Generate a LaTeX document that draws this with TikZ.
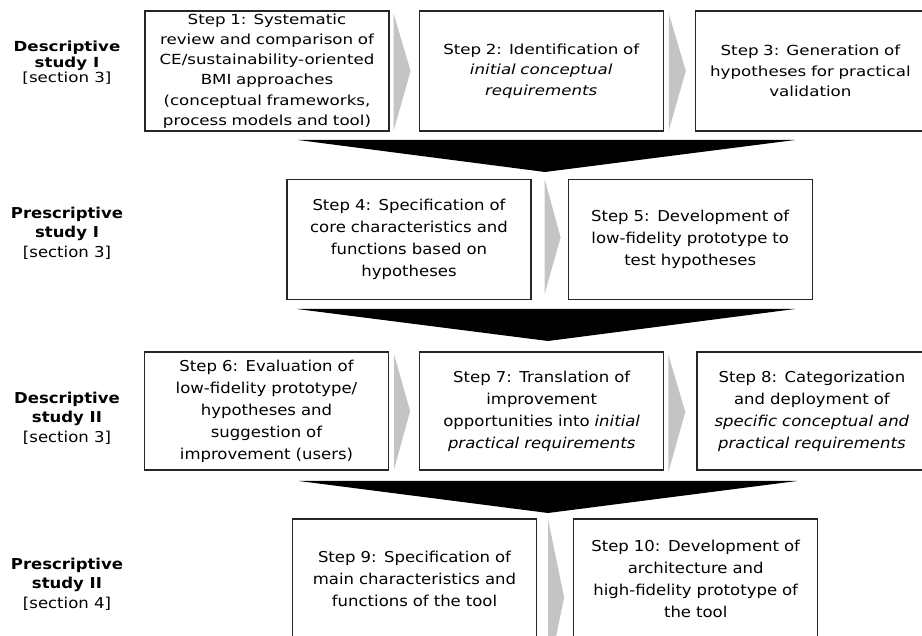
\documentclass[tikz,border=0pt]{standalone}
\usepackage{fontspec}
\setmainfont{DejaVu Sans}
\newfontfamily\topfont[FakeStretch=1.2]{DejaVu Sans}
\newfontfamily\lowfont[FakeStretch=1.1]{DejaVu Sans}
\usetikzlibrary{positioning,calc}
\definecolor{chevronGray}{HTML}{C4C4C4}
\begin{document}
\begin{tikzpicture}[x=1pt, y=-1pt, node distance=30pt]
        % Estilos
        \tikzstyle{stepBox} = [draw=black!85, line width=1.2pt, rectangle, minimum width=244pt, minimum height=120pt, inner sep=2pt, align=center, text width=238pt]
        \tikzstyle{topText} = [font=\topfont\fontsize{13.9}{20.2}\selectfont]
        \tikzstyle{lowText} = [font=\lowfont\fontsize{15}{22}\selectfont]
        \tikzstyle{studyLabel} = [align=center, inner sep=0pt]
        \tikzstyle{bigArrow} = [fill=black]
        \tikzstyle{chevron} = [fill=chevronGray]

        \clip (0,0) rectangle (922,636);

        % Etiquetas de fase
        \node[studyLabel, font=\topfont\fontsize{13.9}{15.5}\selectfont] (phaseOne) at (67,63) {\textbf{Descriptive}\\\textbf{study I}\\{[section 3]}};
        \node[studyLabel, font=\lowfont\fontsize{15}{19.5}\selectfont] (phaseTwo) at (67,233) {\textbf{Prescriptive}\\\textbf{study I}\\{[section 3]}};
        \node[studyLabel, font=\lowfont\fontsize{15}{19.5}\selectfont] (phaseThree) at (67,418) {\textbf{Descriptive}\\\textbf{study II}\\{[section 3]}};
        \node[studyLabel, font=\lowfont\fontsize{15}{19.5}\selectfont] (phaseFour) at (67,584) {\textbf{Prescriptive}\\\textbf{study II}\\{[section 4]}};

        % Fila 1
        \node[stepBox, topText] (step1) at (267,71) {Step 1: Systematic\\review and comparison of\\CE/sustainability-oriented\\BMI approaches\\(conceptual frameworks,\\process models and tool)};
        \node[stepBox, topText, right=29pt of step1] (step2) {Step 2: Identification of\\\textit{initial conceptual}\\\textit{requirements}};
        \node[stepBox, topText, right=31pt of step2, minimum width=230pt, text width=224pt] (step3) {Step 3: Generation of\\hypotheses for practical\\validation};

        % Fila 2
        \node[stepBox, lowText] (step4) at (409,239.5) {Step 4: Specification of\\core characteristics and\\functions based on\\hypotheses};
        \node[stepBox, lowText, right=36pt of step4] (step5) {Step 5: Development of\\low-fidelity prototype to\\test hypotheses};

        % Fila 3
        \node[stepBox, lowText, minimum height=118pt] (step6) at (266.5,411) {Step 6: Evaluation of\\low-fidelity prototype/\\hypotheses and\\suggestion of\\improvement (users)};
        \node[stepBox, lowText, minimum height=118pt, right=30pt of step6] (step7) {Step 7: Translation of\\improvement\\opportunities into \textit{initial}\\\textit{practical requirements}};
        \node[stepBox, lowText, minimum height=118pt, right=32pt of step7, minimum width=230pt, text width=224pt] (step8) {Step 8: Categorization\\and deployment of\\\textit{specific conceptual and}\\\textit{practical requirements}};

        % Fila 4
        \node[stepBox, lowText] (step9) at (414.5,579) {Step 9: Specification of\\main characteristics and\\functions of the tool};
        \node[stepBox, lowText, right=36pt of step9] (step10) {Step 10: Development of\\architecture and\\high-fidelity prototype of\\the tool};

        % Flechas grises entre pasos
        \fill[chevron] ($(step1.north east)+(4,3)$) -- ($(step1.east)+(21,0)$) -- ($(step1.south east)+(4,-1)$) -- cycle;
        \fill[chevron] ($(step2.north east)+(5,3)$) -- ($(step2.east)+(22,0)$) -- ($(step2.south east)+(5,-1)$) -- cycle;
        \fill[chevron] ($(step4.north east)+(13,0)$) -- ($(step4.east)+(29,-2)$) -- ($(step4.south east)+(13,-6)$) -- cycle;
        \fill[chevron] ($(step6.north east)+(5,3)$) -- ($(step6.east)+(21,0)$) -- ($(step6.south east)+(5,-1)$) -- cycle;
        \fill[chevron] ($(step7.north east)+(4,3)$) -- ($(step7.east)+(21,1)$) -- ($(step7.south east)+(4,2)$) -- cycle;
        \fill[chevron] ($(step9.north east)+(11,1)$) -- ($(step9.north east)+(27,79)$) -- ($(step9.north east)+(11,157)$) -- cycle;

        % Flechas negras entre fases
        \fill[bigArrow] (298,140) -- (795,140) -- (545,172) -- cycle;
        \fill[bigArrow] (297,309) -- (795,309) -- (548,341) -- cycle;
        \fill[bigArrow] (299,481) -- (797,481) -- (548,513) -- cycle;
    \end{tikzpicture}
\end{document}
